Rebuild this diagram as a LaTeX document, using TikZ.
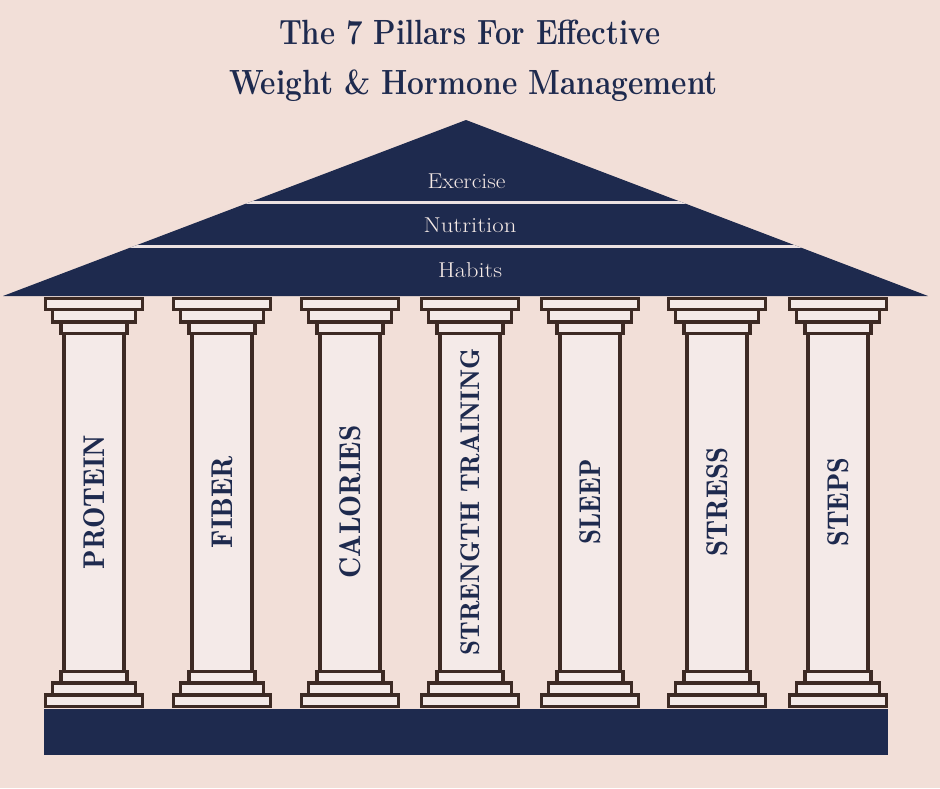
\documentclass[tikz,border=0pt]{standalone}
\usepackage{graphicx}
\definecolor{bg}{HTML}{F2DFD8}
\definecolor{navy}{HTML}{1E2A4E}
\definecolor{pfill}{HTML}{F4EAE8}
\definecolor{pline}{HTML}{3D2A24}
\definecolor{rooftext}{HTML}{F5EAE6}
\definecolor{gapc}{HTML}{ECE2E2}
\newsavebox\fitbox
\newcommand\fitw[2]{\sbox\fitbox{#2}\scalebox{\fpeval{(#1)/(\the\wd\fitbox)}}[1]{\usebox\fitbox}}
\tikzset{
  pil/.style={draw=pline, fill=pfill, line width=3.2pt},
  pillabel/.style={rotate=90, text=navy, inner sep=0pt},
  rooflabel/.style={anchor=base, text=rooftext, inner sep=0pt},
  titlelabel/.style={anchor=base, text=navy, inner sep=0pt}
}
\begin{document}
\begin{tikzpicture}[x=1pt,y=-1pt]
\useasboundingbox (0,0) rectangle (940,788);
\fill[bg] (0,0) rectangle (940,788);

% title
\node[titlelabel] (title1) at (469.5,44.3) {\fontsize{35}{40}\selectfont\bfseries\fitw{381}{The 7 Pillars For Effective}};
\node[titlelabel] (title2) at (473.5,94) {\fontsize{35}{40}\selectfont\bfseries\fitw{489}{Weight \& Hormone Management}};

% roof
\fill[navy] (3,296) -- (466,120) -- (928,296) -- cycle;
\begin{scope}
  \clip (3,296) -- (466,120) -- (928,296) -- cycle;
  \fill[gapc] (0,200.5) rectangle (940,203.5);
  \fill[gapc] (0,244.5) rectangle (940,247.5);
\end{scope}
\node[rooflabel] (exercise) at (466.5,188) {\fontsize{21.5}{24}\selectfont\fitw{78}{Exercise}};
\node[rooflabel] (nutrition) at (470,232.5) {\fontsize{21.5}{24}\selectfont\fitw{93}{Nutrition}};
\node[rooflabel] (habits) at (470,277) {\fontsize{21.5}{24}\selectfont\fitw{64}{Habits}};

% base platform
\fill[navy] (44,709) rectangle (888,755);

% pillars
\foreach \c/\nm/\txt/\len/\fs in {94/protein/PROTEIN/134/30, 222/fiber/FIBER/92/30, 350/calories/CALORIES/153/30, 470/strength/STRENGTH TRAINING/307/27, 590/sleep/SLEEP/85/30, 717/stress/STRESS/109/30, 838/steps/STEPS/89/30}{
  \draw[pil] (\c-30,333.5) rectangle (\c+30,671.5);
  \draw[pil] (\c-48.5,298.5) rectangle (\c+48.5,309.5);
  \draw[pil] (\c-41.5,309.5) rectangle (\c+41.5,322);
  \draw[pil] (\c-33,322) rectangle (\c+33,333.5);
  \draw[pil] (\c-33,671.5) rectangle (\c+33,683);
  \draw[pil] (\c-41.5,683) rectangle (\c+41.5,695);
  \draw[pil] (\c-48.5,695) rectangle (\c+48.5,706.5);
  \node[pillabel] (\nm) at (\c,502) {\fontsize{\fs}{\fs}\fontseries{b}\selectfont\fitw{\len}{\txt}};
}
\end{tikzpicture}
\end{document}
